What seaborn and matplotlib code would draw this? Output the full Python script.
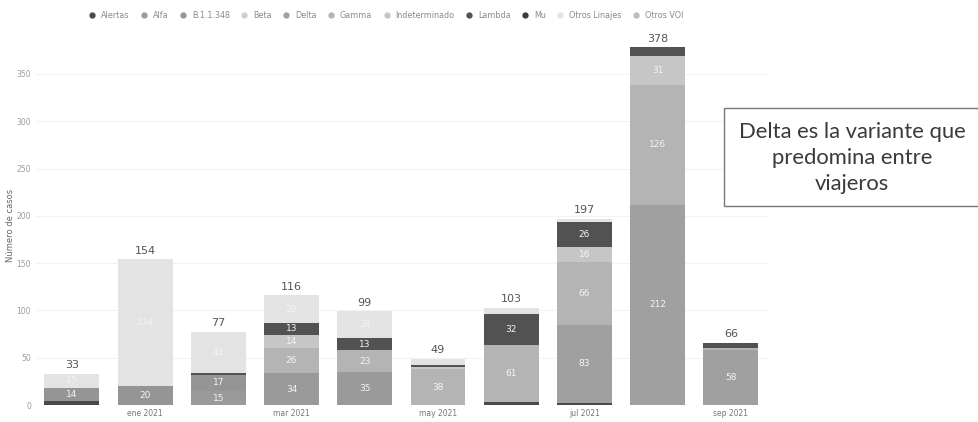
import numpy as np
import pandas as pd
import matplotlib
matplotlib.use("Agg")
import matplotlib.pyplot as plt
from matplotlib.lines import Line2D
from matplotlib.patches import Rectangle
import seaborn as sns

# data
meses = ["dic 2020", "ene 2021", "feb 2021", "mar 2021", "abr 2021",
         "may 2021", "jun 2021", "jul 2021", "ago 2021", "sep 2021"]
variantes = ["Alertas", "Alfa", "B.1.1.348", "Beta", "Delta", "Gamma",
             "Indeterminado", "Lambda", "Mu", "Otros Linajes", "Otros VOI"]

alertas = [4, 0, 0, 0, 0, 0, 3, 2, 0, 0]
alfa = [0, 0, 15, 34, 35, 0, 0, 0, 0, 0]
b11348 = [14, 20, 17, 0, 0, 0, 0, 0, 0, 0]
beta = [0, 0, 0, 0, 0, 0, 0, 0, 0, 0]
delta = [0, 0, 0, 0, 0, 0, 0, 83, 212, 58]
gamma = [0, 0, 0, 26, 23, 38, 61, 66, 126, 2]
indeterminado = [0, 0, 0, 14, 0, 2, 0, 16, 31, 0]
lambda_ = [0, 0, 2, 13, 13, 2, 32, 26, 9, 6]
mu = [0, 0, 0, 0, 0, 0, 0, 0, 0, 0]
otros_linajes = [15, 134, 43, 29, 28, 7, 7, 4, 0, 0]
otros_voi = [0, 0, 0, 0, 0, 0, 0, 0, 0, 0]

series = [alertas, alfa, b11348, beta, delta, gamma,
          indeterminado, lambda_, mu, otros_linajes, otros_voi]

# greyscale, like the photocopy
colores = ["#4a4a4a", "#9a9a9a", "#959595", "#cfcfcf", "#a0a0a0", "#b4b4b4",
           "#c6c6c6", "#525252", "#3a3a3a", "#e3e3e3", "#bdbdbd"]
paleta = dict(zip(variantes, colores))

rows = []
for v, vals in zip(variantes, series):
    for i, c in enumerate(vals):
        rows.append({"mes": i, "variante": v, "casos": c})
df = pd.DataFrame(rows)

sns.set_style("white")
plt.rcParams["font.family"] = ["DejaVu Sans"]

fig = plt.figure(figsize=(9.79, 4.22), dpi=100)
ax = fig.add_axes([0.036, 0.040, 0.748, 0.888])

# seaborn puts the first hue level on top when stacking -> reverse
sns.histplot(data=df, x="mes", weights="casos", hue="variante",
             hue_order=variantes[::-1], palette=paleta, multiple="stack",
             discrete=True, shrink=0.75, alpha=1, linewidth=0,
             legend=False, ax=ax)

ax.set_xlim(-0.5, 9.5)
ax.set_ylim(0, 396)
ax.set_yticks(np.arange(0, 351, 50))
ax.tick_params(axis="y", labelsize=5.5, colors="#9a9a9a", length=0, pad=3)
ax.set_xticks(range(1, 10, 2))
ax.set_xticklabels([meses[i] for i in range(1, 10, 2)])
ax.tick_params(axis="x", labelsize=5.5, colors="#777777", length=0, pad=3)
ax.set_xlabel("")
ax.set_ylabel("Número de casos", fontsize=6, color="#666666")
ax.yaxis.set_label_coords(-0.028, 0.48)
ax.yaxis.grid(True, color="#f3f3f3", linewidth=0.8)
ax.set_axisbelow(True)
sns.despine(ax=ax, left=True, bottom=True)

# segment labels and totals
datos = np.array(series)
acum = np.cumsum(datos, axis=0)
totales = datos.sum(axis=0)
for j in range(len(meses)):
    for k in range(len(variantes)):
        val = datos[k, j]
        if val >= 10:
            centro = acum[k, j] - val / 2
            ax.text(j, centro, str(val), ha="center", va="center",
                    fontsize=6.5, color="#f4f4f4")
    ax.text(j, totales[j] + 4, str(totales[j]), ha="center", va="bottom",
            fontsize=8, color="#555555")

# legend across the top
handles = [Line2D([0], [0], marker="o", linestyle="", markersize=3.5,
                  markerfacecolor=c, markeredgecolor=c) for c in colores]
fig.legend(handles, variantes, loc="center", ncol=len(variantes),
           bbox_to_anchor=(0.392, 0.963), frameon=False, fontsize=5.8,
           handletextpad=0.1, columnspacing=0.8, labelcolor="#8a8a8a")

# callout box on the right
fig.patches.append(Rectangle((724 / 979, 1 - 206 / 422), 0.3, 98 / 422,
                             transform=fig.transFigure, facecolor="white",
                             edgecolor="#777777", linewidth=1.0))
fig.text(852 / 979, 1 - 158 / 422,
         "Delta es la variante que\npredomina entre\nviajeros",
         ha="center", va="center", fontsize=15.8, color="#3a3a3a",
         family=["Lato", "DejaVu Sans"], linespacing=1.4)

fig.savefig("out.png", dpi=100)
